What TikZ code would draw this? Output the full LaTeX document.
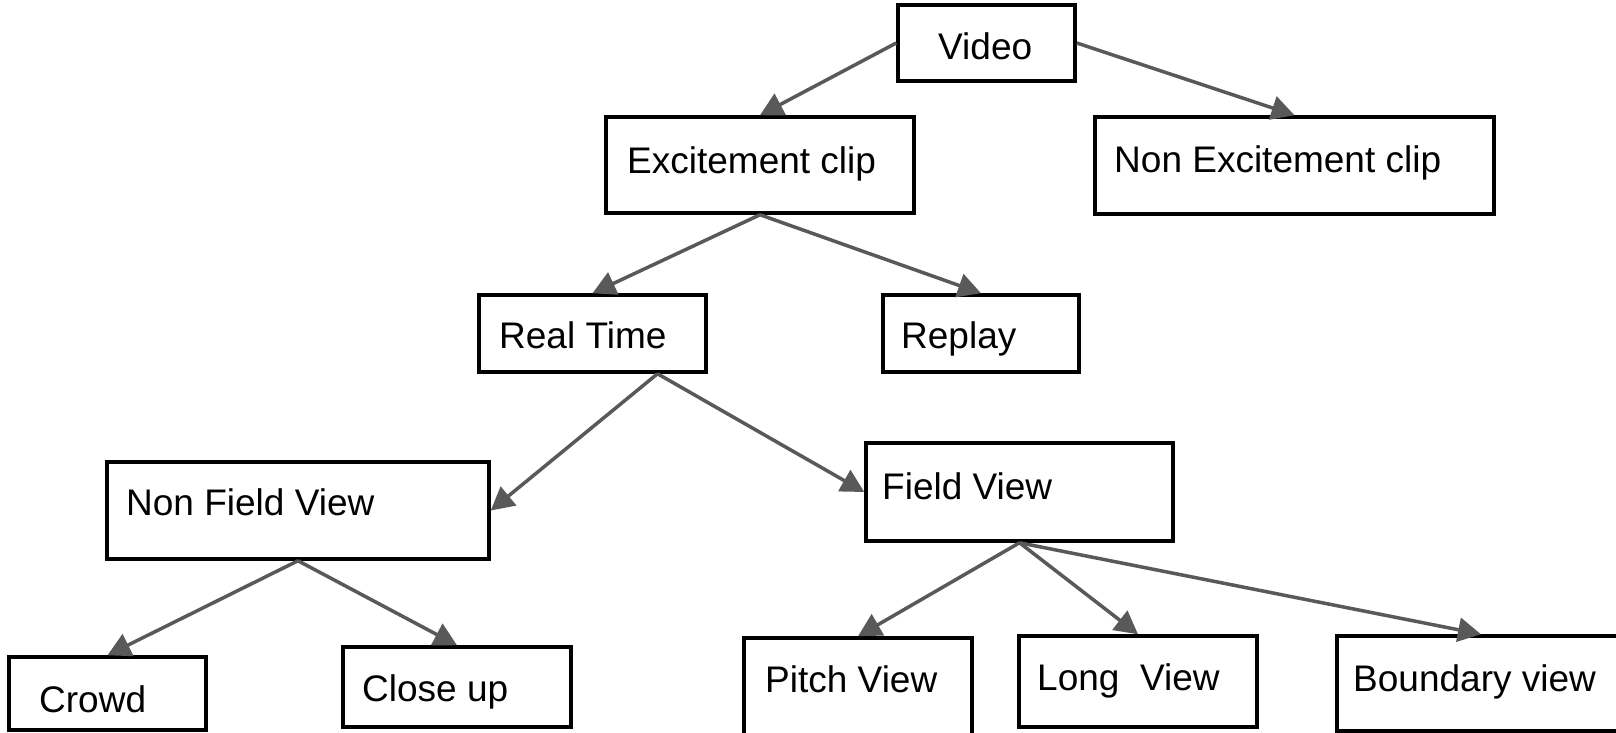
\documentclass[tikz,border=0pt]{standalone}
\usepackage{fontspec}
\setmainfont{Liberation Sans}
\usetikzlibrary{arrows.meta,calc}
\definecolor{linkgray}{RGB}{89,89,89}
\tikzset{
  box/.style={draw=black, line width=3.5pt, fill=white, rectangle, inner sep=0pt},
  lbl/.style={anchor=base west, inner sep=0pt, font=\fontsize{37}{44}\selectfont},
  link/.style={draw=linkgray, line width=3.5pt, -{Triangle[length=23pt,width=24pt]}}
}
% place a box by its corners (x1,y1) and (x2,y2), pixel-like units
\newcommand{\boxat}[5]{%
  \node[box, minimum width={(#4-#2)*1pt}, minimum height={(#5-#3)*1pt}]
    (#1) at ({(#2+#4)/2*1pt},{-(#3+#5)/2*1pt}) {};}
\begin{document}
\begin{tikzpicture}[x=1pt,y=-1pt]
\useasboundingbox (0,0) rectangle (1616,733);
\begin{scope}
\clip (0,0) rectangle (1616,733);
\fill[white] (0,0) rectangle (1616,733);

% boxes
\boxat{video}{898}{5}{1075}{81}
\boxat{exc}{606}{117}{914}{213}
\boxat{nonexc}{1095}{117}{1494}{214}
\boxat{rt}{479}{295}{706}{372}
\boxat{rep}{883}{295}{1079}{372}
\boxat{nfv}{107}{462}{489}{559}
\boxat{fv}{866}{443}{1173}{541}
\boxat{crowd}{9}{657}{206}{730}
\boxat{closeup}{343}{647}{571}{727}
\boxat{pitch}{744}{638}{972}{760}
\boxat{long}{1019}{636}{1257}{727}
\boxat{boundary}{1337}{636}{1625}{731}

% labels
\node[lbl] (tvideo)    at (938,60)   {Video};
\node[lbl] (texc)      at (627,173)  {Excitement clip};
\node[lbl] (tnonexc)   at (1114,172) {Non Excitement clip};
\node[lbl] (trt)       at (499,348)  {Real Time};
\node[lbl] (trep)      at (901,348)  {Replay};
\node[lbl] (tnfv)      at (126,515)  {Non Field View};
\node[lbl] (tfv)       at (882,499)  {Field View};
\node[lbl] (tcrowd)    at (39,712)   {Crowd};
\node[lbl] (tcloseup)  at (362,701)  {Close up};
\node[lbl] (tpitch)    at (765,692)  {Pitch View};
\node[lbl] (tlong)     at (1037,690) {Long\ \ View};
\node[lbl] (tboundary) at (1353,691) {Boundary view};

% connectors
\draw[link] (video.west) -- (exc.north);
\draw[link] (video.east) -- (nonexc.north);
\draw[link] (exc.south) -- (rt.north);
\draw[link] (exc.south) -- (rep.north);
\coordinate (rtout) at ($(rt.south)+(65,0)$);
\draw[link] (rtout) -- (nfv.east);
\draw[link] (rtout) -- (fv.west);
\draw[link] (nfv.south) -- (crowd.north);
\draw[link] (nfv.south) -- (closeup.north);
\draw[link] (fv.south) -- (pitch.north);
\draw[link] (fv.south) -- (long.north);
\draw[link] (fv.south) -- (boundary.north);
\end{scope}
\end{tikzpicture}
\end{document}
